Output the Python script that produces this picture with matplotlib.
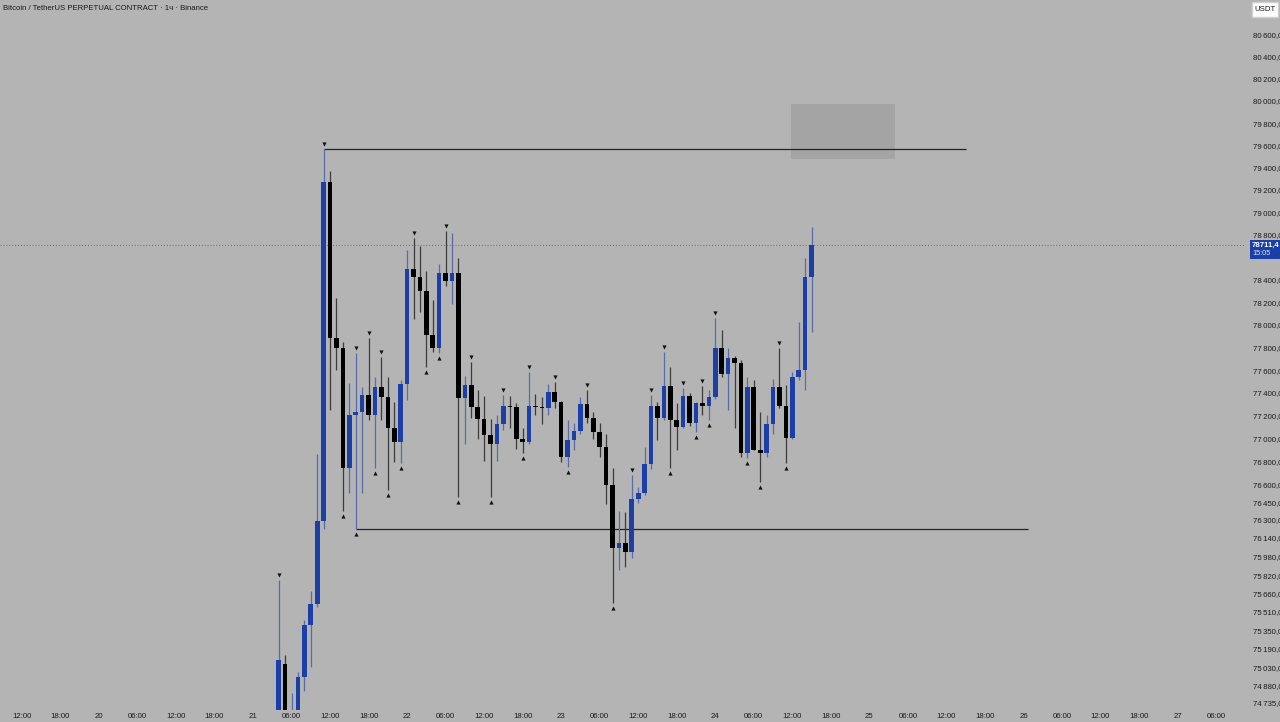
import numpy as np
import matplotlib
matplotlib.use('Agg')
import matplotlib.pyplot as plt
from matplotlib.patches import Rectangle
from matplotlib.ticker import FixedLocator, NullLocator
from matplotlib.transforms import offset_copy

plt.rcParams['font.family'] = ['Liberation Sans Narrow', 'Liberation Sans', 'DejaVu Sans']

BG = '#b4b4b4'
BLUE = '#1b3fa6'
BLUE_WICK = '#5a6ca8'
DARK = '#000000'
DARK_WICK = '#3c3c3c'
TEXT = '#1a1a1a'
FS = 5.6

# 1h candles, first one on the 21st 04:00 (hours counted from the 20th 00:00)
first_hour = 28

opens = [74510, 75065, 74380, 74600, 74955, 75390, 75570, 76290, 79270, 77885,
         77795, 76745, 77210, 77230, 77380, 77205, 77450, 77365, 77095, 76975,
         77480, 78490, 78425, 78300, 77910, 77795, 78460, 78390, 78455, 77355,
         77470, 77275, 77175, 77035, 76955, 77125, 77290, 77280, 77000, 76975,
         77285, 77275, 77265, 77405, 77320, 76845, 76985, 77070, 77300, 77185,
         77060, 76925, 76600, 76055, 76100, 76015, 76480, 76530, 76780, 77285,
         77185, 77460, 77160, 77105, 77370, 77140, 77310, 77290, 77365, 77795,
         77565, 77710, 77665, 76880, 77450, 76905, 76880, 77125, 77450, 77285,
         77010, 77540, 77600, 78425]
highs = [75780, 75140, 74820, 74995, 75435, 75685, 76865, 79565, 79365, 78240,
         77850, 77485, 77750, 77450, 77885, 77540, 77715, 77540, 77320, 77515,
         78660, 78765, 78695, 78480, 78220, 78535, 78835, 78810, 78595, 77550,
         77675, 77425, 77370, 77175, 77205, 77380, 77370, 77310, 77090, 77585,
         77390, 77365, 77480, 77495, 77330, 77160, 77135, 77365, 77425, 77230,
         77140, 77045, 76745, 76370, 76360, 76685, 76580, 76925, 77380, 77320,
         77760, 77630, 77310, 77445, 77400, 77320, 77460, 77425, 78060, 77955,
         77795, 77725, 77690, 77540, 77515, 77230, 77210, 77520, 77795, 77470,
         77585, 78020, 78595, 78870]
lows = [74400, 74350, 74300, 74550, 74830, 75040, 75545, 76220, 77250, 77600,
        76370, 76530, 76215, 76530, 77160, 76745, 77160, 76555, 76795, 76785,
        77335, 78055, 78115, 77630, 77760, 77750, 78340, 78185, 76490, 76955,
        77185, 77000, 76805, 76490, 76810, 77080, 77095, 76915, 76880, 76955,
        77205, 77125, 77205, 77265, 76795, 76750, 76900, 77045, 77135, 77000,
        76840, 76430, 75580, 75865, 75890, 75970, 76445, 76515, 76735, 76990,
        77160, 76745, 76900, 77090, 77115, 77055, 77210, 77160, 77350, 77540,
        77250, 77095, 76840, 76830, 76900, 76625, 76840, 77045, 77265, 76785,
        77000, 77515, 77425, 77940]
closes = [75100, 74420, 74560, 74955, 75390, 75570, 76290, 79270, 77885, 77795,
          76745, 77210, 77230, 77380, 77205, 77450, 77365, 77095, 76975, 77480,
          78490, 78425, 78300, 77910, 77795, 78460, 78390, 78455, 77355, 77470,
          77275, 77175, 77035, 76955, 77125, 77285, 77275, 77000, 76975, 77285,
          77275, 77265, 77405, 77320, 76845, 76985, 77070, 77300, 77185, 77060,
          76925, 76600, 76055, 76100, 76015, 76480, 76530, 76780, 77285, 77185,
          77460, 77160, 77105, 77370, 77140, 77310, 77290, 77365, 77795, 77565,
          77710, 77665, 76880, 77450, 76905, 76880, 77125, 77450, 77285, 77010,
          77540, 77600, 78425, 78711.4]

# pivot markers (candle indices)
pivot_highs = [0, 7, 12, 14, 16, 21, 26, 30, 35, 39, 43, 48, 55, 58, 60, 63, 66, 68, 78]
pivot_lows = [10, 12, 15, 17, 19, 23, 25, 28, 33, 38, 45, 52, 61, 65, 67, 73, 75, 79]

# drawn levels: (price, start hour, end hour)
level_high = (79565, 35, 135)
level_low = (76215, 40, 144.7)
zone = (107.8, 124.0, 79475, 79970)   # hour from, hour to, price low, price high
last_price = 78711.4

y_ticks = [80600, 80400, 80200, 80000, 79800, 79600, 79400, 79200, 79000, 78800,
           78400, 78200, 78000, 77800, 77600, 77400, 77200, 77000, 76800,
           76600, 76450, 76300, 76140, 75980, 75820, 75660, 75510, 75350, 75190,
           75030, 74880, 74735]
x_ticks = list(range(-12, 175, 6))

fig = plt.figure(figsize=(12.8, 7.22), dpi=100, facecolor=BG)
ax = fig.add_axes([0, 12 / 722, 1245 / 1280, 710 / 722])
ax.set_facecolor(BG)
ax.set_yscale('log')

hours = first_hour + np.arange(len(opens))
for h, o, hi, lo, c in zip(hours, opens, highs, lows, closes):
    up = c >= o
    ax.vlines(h, lo, hi, color=BLUE_WICK if up else DARK_WICK, lw=0.9, zorder=2)
    ax.bar(h, max(abs(c - o), 9), bottom=min(o, c), width=0.72,
           color=BLUE if up else DARK, linewidth=0, zorder=3)

highs_a = np.array(highs)
lows_a = np.array(lows)
up_tr = offset_copy(ax.transData, fig=fig, x=0, y=5, units='dots')
dn_tr = offset_copy(ax.transData, fig=fig, x=0, y=-5, units='dots')
ax.scatter(hours[pivot_highs], highs_a[pivot_highs], marker='v', s=9,
           color='#111111', linewidths=0, transform=up_tr, zorder=4)
ax.scatter(hours[pivot_lows], lows_a[pivot_lows], marker='^', s=9,
           color='#111111', linewidths=0, transform=dn_tr, zorder=4)

ax.hlines(level_high[0], level_high[1], level_high[2], color='#222222', lw=0.9, zorder=1)
ax.hlines(level_low[0], level_low[1], level_low[2], color='#222222', lw=0.9, zorder=1)
ax.add_patch(Rectangle((zone[0], zone[2]), zone[1] - zone[0], zone[3] - zone[2],
                       facecolor='#a4a4a4', edgecolor='none', zorder=0.5))
ax.axhline(last_price, color='#6a6a6a', lw=0.7, ls=(0, (1, 2)), zorder=1)

ax.set_xlim(-15.4, 178.5)
ax.set_ylim(74672, 80920)

ax.yaxis.set_major_locator(FixedLocator(y_ticks))
ax.yaxis.set_minor_locator(NullLocator())
ax.set_yticklabels([f'{v:,.1f}'.replace(',', '\u2009').replace('.', ',') for v in y_ticks])
ax.yaxis.tick_right()
ax.tick_params(axis='y', length=0, pad=5.5, labelsize=FS, labelcolor=TEXT)

ax.set_xticks(x_ticks)
ax.set_xticklabels([str(20 + h // 24) if h % 24 == 0 else f'{h % 24:02d}:00' for h in x_ticks])
ax.tick_params(axis='x', length=0, pad=2.5, labelsize=FS, labelcolor=TEXT)
for s in ax.spines.values():
    s.set_visible(False)

# title
fig.text(3 / 1280, 1 - 8 / 722, 'Bitcoin / TetherUS PERPETUAL CONTRACT · 1ч · Binance',
         fontsize=FS, color=TEXT, va='center', ha='left')

# last price label
fig.patches.append(Rectangle((1250 / 1280, 1 - 259 / 722), 30 / 1280, 19 / 722,
                             transform=fig.transFigure, facecolor=BLUE, edgecolor='none', zorder=5))
fig.text(1252 / 1280, 1 - 245 / 722, '78711,4', fontsize=FS, fontweight='bold',
         color='white', va='center', ha='left', zorder=6)
fig.text(1252 / 1280, 1 - 253.5 / 722, '15:05', fontsize=FS - 0.3, color='#dde3f5',
         va='center', ha='left', zorder=6)

# currency box
fig.patches.append(Rectangle((1252 / 1280, 1 - 17 / 722), 26 / 1280, 15 / 722,
                             transform=fig.transFigure, facecolor='white',
                             edgecolor='#d0d0d0', zorder=5))
fig.text(1265 / 1280, 1 - 9.5 / 722, 'USDT', fontsize=FS, color=TEXT,
         va='center', ha='center', zorder=6)

fig.savefig('out.png', dpi=100, facecolor=BG)
